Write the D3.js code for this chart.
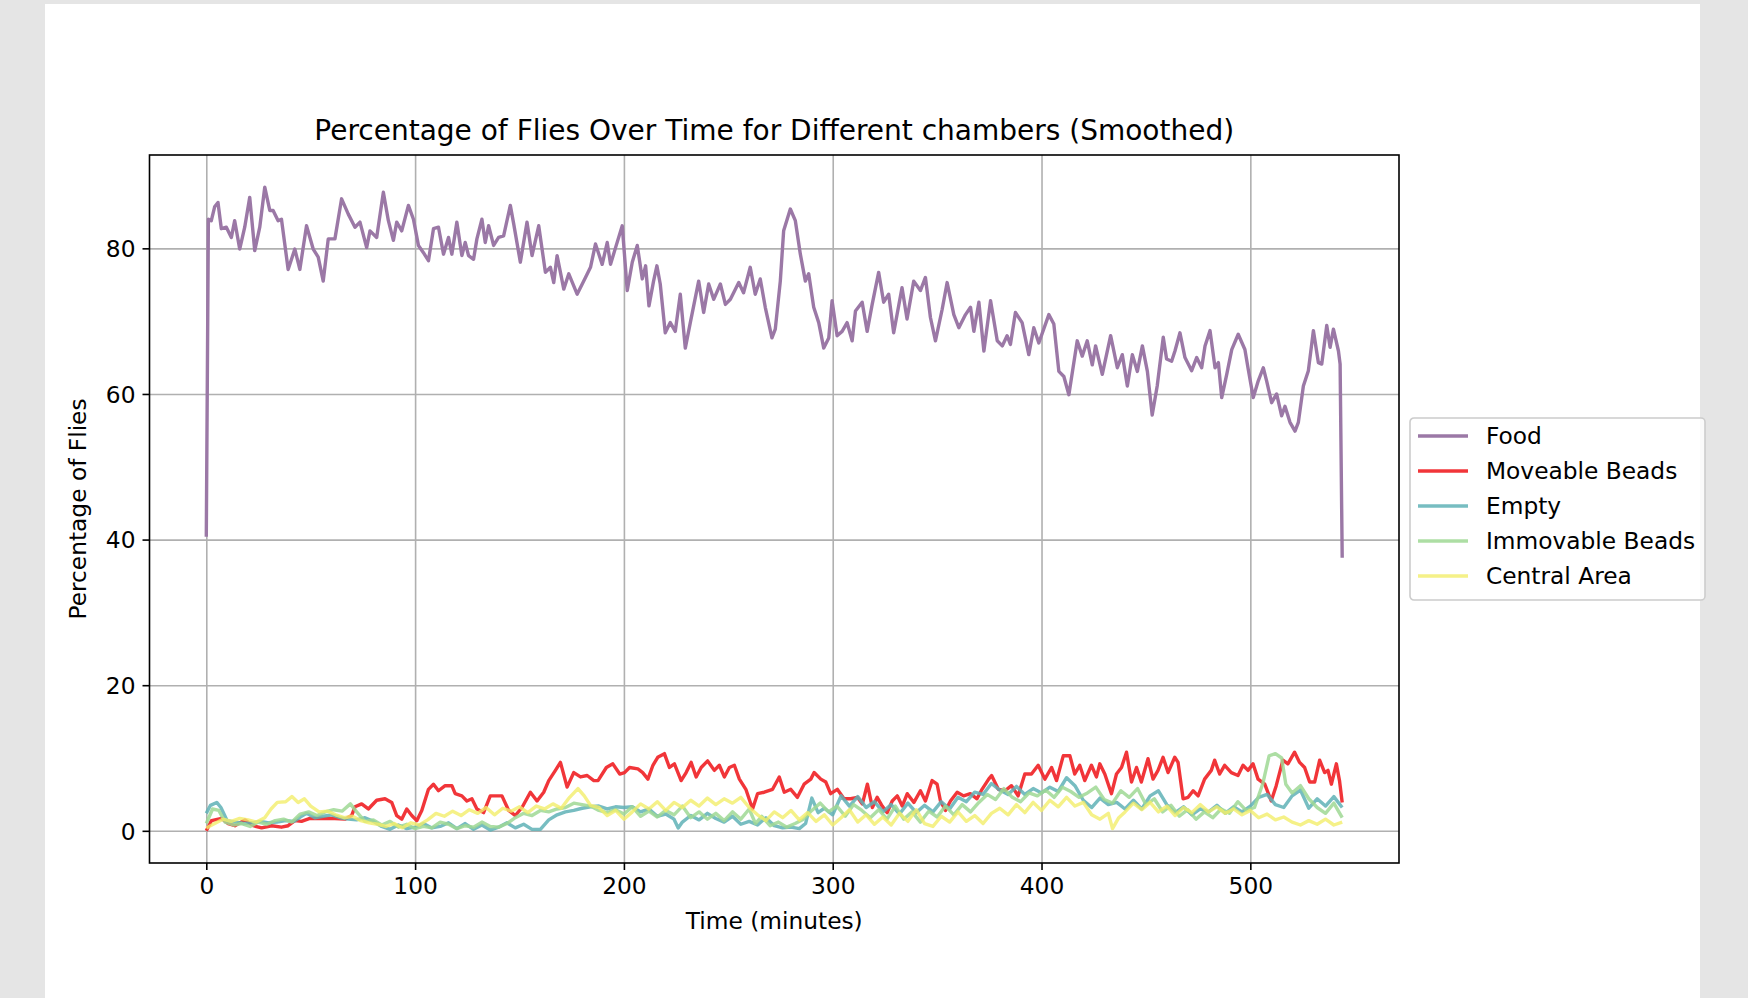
<!DOCTYPE html>
<html>
<head>
<meta charset="utf-8">
<script src="https://cdn.jsdelivr.net/npm/d3@7"></script>
<style>
  body { margin: 0; background: #e5e5e5; }
  svg { display: block; font-family: "DejaVu Sans", sans-serif; }
</style>
</head>
<body>
<svg id="chart" width="1748" height="998"></svg>
<script>
// ---- data (minutes vs % of flies) ----
const seriesNames = ["Food", "Moveable Beads", "Empty", "Immovable Beads", "Central Area"];
const yTicks = [0, 20, 40, 60, 80];
const xTicks = [0, 100, 200, 300, 400, 500];

const foodT = [0,1,2.4,4,5.6,7.2,9.6,12,13.6,16,18.4,20.8,23.2,25.6,28,30.4,32,34.4,36,39.2,42.4,44.8,48,51.2,53.6,56,58.4,61.6,64.8,68,71.2,73.6,76.8,78.4,81.6,84.8,87.2,89.6,91.2,93.6,96.8,99.2,101.6,104,106.4,108.8,111.2,113.6,116,117.6,120,122.4,124,125.6,128,129.6,132,133.6,135.2,137.6,140,142.4,145.6,147.2,150.4,153.6,156,159.2,162.4,164.8,166.4,168,171.2,173.6,177.6,181.6,184,186.4,189.6,192,193.6,196,199.2,201.6,204,206.4,208.8,210.4,212,214.2,215.8,217.4,219.8,222.2,224.6,227,229.4,231.8,235.8,238.2,240.6,243,246.2,248.6,251,255,257.3,260.5,262.9,265.3,267.7,270.9,272.5,274.9,276.5,279.7,282.1,284.5,286.9,288.5,290.9,293.3,295.7,298.1,299.7,302.1,304.5,306.9,309.3,310.9,314.1,316.5,318.9,322,324.4,326.8,329.2,333.2,335.6,338.8,342,344.4,346.8,349.2,352.4,354.8,358,360.4,363.6,366,367.6,370,372.4,375.6,378.8,381.2,383.5,385.1,387.5,390.7,393.9,396.3,398.7,403.5,405.9,408.3,410.7,413.1,417.1,419.5,421.9,424.3,425.9,429.1,433.1,436.3,438.7,441.1,443.5,445.9,448.3,450.7,453,455.4,458.3,459.9,462.3,463.9,466.3,468.7,471.9,474.3,476.7,478.3,480.7,483.1,484.7,486.3,488.7,491.1,494.2,497.4,499,501.4,503.8,506.2,507.8,510.2,512.6,515,516.6,519,521.4,523,525.4,527.8,530.2,532.6,534.2,536.6,538.2,539.8,542.2,543,544];
const foodV = [40.4,84.0,83.8,85.7,86.3,82.7,82.9,81.5,83.8,79.9,82.9,87.0,79.7,82.9,88.4,85.2,85.2,83.8,84.0,77.1,79.9,77.1,83.1,79.9,78.8,75.5,81.3,81.3,86.8,84.7,82.9,83.6,80.1,82.4,81.5,87.7,83.8,81.1,83.6,82.4,85.9,84.0,80.4,79.4,78.3,82.7,82.9,79.2,81.5,79.2,83.6,79.0,80.8,79.0,78.5,81.3,84.0,80.8,83.1,80.4,81.5,81.7,85.9,83.4,78.1,83.6,79.0,83.1,76.7,77.4,75.3,79.0,74.4,76.5,73.7,76.0,77.4,80.6,77.8,80.8,77.8,80.1,83.1,74.2,78.1,80.4,75.8,77.6,72.1,75.5,77.6,75.1,68.4,69.8,68.6,73.7,66.3,69.8,75.5,71.2,75.1,73.0,75.1,72.3,73.0,75.3,73.9,77.4,73.7,75.8,71.9,67.7,68.9,75.5,82.4,85.4,83.8,79.2,75.5,76.5,71.9,69.8,66.3,67.7,72.8,68.0,68.6,69.8,67.3,71.4,72.6,68.6,72.3,76.7,72.6,73.7,68.4,74.6,70.3,75.5,74.2,76.0,70.5,67.3,71.6,75.3,70.9,69.1,70.9,71.9,68.6,72.6,65.9,72.8,67.3,66.6,68.0,66.8,71.2,69.8,65.4,69.1,67.0,70.9,69.6,63.1,62.4,59.9,67.3,65.2,67.3,64.0,66.6,62.7,68.0,63.6,65.4,61.1,65.4,63.1,66.6,63.1,57.1,61.1,67.8,64.8,64.5,65.9,68.4,65.0,63.2,65.0,63.6,66.6,68.7,63.6,64.3,59.5,62.7,66.1,68.2,66.1,63.4,59.5,61.8,63.6,61.8,58.8,60.0,57.0,58.3,56.1,54.9,56.1,61.1,63.2,68.7,64.3,64.1,69.4,66.4,68.9,65.9,64.1,37.5];

const moveT = [0,2.5,7.3,10.5,13.7,18.5,22.5,26.5,31.3,36,39.2,42.4,45.6,49.6,55.2,61.6,66.4,69.6,71.2,74.4,77.6,81.6,85.6,88.8,91.2,93.6,96,98.4,100.8,103.2,106.4,108.8,111.2,114.4,117.6,119.2,122.4,124.8,127.2,129.6,132.8,136,139.2,141.6,144.8,148,151.2,155.2,158.4,161.6,164,167.2,169.6,172.8,176,179.2,182.4,185.6,187.6,191.6,194.7,198,200.3,202.7,206.7,209,211.5,213.9,216.2,219.4,221.8,224.2,227.4,229.8,232.2,234.6,237,240.1,243.3,245.7,248.1,250.5,252.9,255.3,258.4,261.6,264,267.2,271.2,274.4,276.8,279.9,283.1,286.3,289.5,291.1,294.3,296.7,299,302.2,305.4,308.6,311.8,314.2,316.6,319,321.3,323.7,326.1,328.5,330.9,333.3,335.7,338.9,342,344.4,347.6,350,351.6,354,356.4,359.6,362.7,365.9,369.1,371.5,374.7,376.1,379.3,382.5,385.6,388.8,392,395.2,398.4,401.6,404.8,407.2,410.4,413.6,415.9,418.3,420.7,423.9,426.3,427.9,430.3,433.5,435.9,438.3,440.7,443.1,445.5,447.8,451,453.4,455.8,458.2,460.6,463.8,465.4,467.8,470.2,472.6,475,478.1,481.3,482.9,485.3,487.7,490.9,494.1,496.5,498.9,501.3,503.7,506.9,510,512.4,515.6,518,521.2,523.6,526,528.4,530.8,533.2,535.6,537.2,538.8,541.2,542.7,544];
const moveV = [0,1.4,1.7,1.0,0.7,1.5,0.7,0.4,0.7,0.5,0.7,1.4,1.3,1.7,1.7,1.7,1.6,2.1,3.3,3.7,3.0,4.2,4.4,3.9,2.1,1.6,3.0,2.1,1.4,2.8,5.7,6.4,5.5,6.2,6.2,5.1,4.8,4.1,4.4,3.0,2.5,4.8,4.8,4.8,2.8,2.1,3.2,5.3,4.1,5.3,6.9,8.3,9.4,6.0,8.0,7.4,7.6,6.9,6.9,8.7,9.2,7.8,8.0,8.7,8.5,8.0,7.1,9.0,10.1,10.6,8.7,9.2,6.9,8.0,9.4,7.4,8.7,9.6,8.3,9.0,7.4,8.7,9.0,7.1,5.7,3.0,5.1,5.3,5.7,7.4,5.3,5.7,4.6,6.4,7.1,8.0,7.1,6.7,5.1,5.7,4.4,4.4,4.6,3.7,6.4,3.2,4.6,3.4,2.5,4.1,4.8,3.4,5.1,3.9,5.5,4.1,6.9,6.4,4.1,2.8,4.1,5.3,4.8,5.1,4.4,5.7,7.1,7.6,5.7,5.5,6.2,4.8,7.8,7.8,9.0,7.1,8.7,6.9,10.3,10.3,7.8,9.0,6.9,9.0,7.4,9.2,7.8,5.1,7.8,8.7,10.8,6.7,8.7,6.7,9.9,7.1,8.3,10.1,8.0,10.1,9.4,4.4,4.6,5.5,4.8,7.1,8.3,9.7,7.8,9.0,8.0,7.6,9.0,8.3,9.2,7.1,6.4,4.1,6.2,9.7,9.2,10.8,9.4,8.7,6.7,6.7,9.7,8.0,8.3,6.4,9.2,6.9,3.9];

const emptyT = [0,2,5,7,10,14,18,22,26,30,34,38,42,45,48,52,56,60,64,68,72,76,80,84,88,92,96,100,104,108,112,116,120,124,128,132,136,140,144,148,152,156,160,164,168,172,176,180,184,188,192,196,200,204,208,212,216,220,224,226,228,232,236,240,244,248,252,256,260,264,268,272,276,280,284,287,290,293,296,300,304,308,312,316,320,324,328,332,336,340,344,348,352,356,360,364,368,372,376,380,384,388,392,396,400,404,408,412,416,420,424,428,432,436,440,444,448,452,456,460,464,468,472,476,480,484,488,492,496,500,504,508,512,516,520,524,528,532,536,540,544];
const emptyV = [2.4,3.5,3.9,3.2,1.4,1.2,1.0,1.1,1.3,1.1,1.2,1.4,1.3,1.9,2.4,1.8,2.0,2.2,1.8,1.6,1.5,1.8,1.3,0.6,0.2,0.8,0.3,0.5,1.0,0.4,0.6,1.1,0.3,1.0,0.2,0.8,0.1,0.5,1.1,0.4,0.9,0.2,0.2,1.5,2.2,2.6,2.8,3.1,3.3,3.4,3.0,3.3,3.2,3.3,2.6,3.0,2.0,2.3,1.6,0.4,1.2,2.1,1.5,2.4,1.7,1.2,2.0,0.9,1.3,0.8,1.8,0.7,0.4,0.5,0.3,1.0,4.5,2.5,3.1,2.2,4.8,3.4,4.7,3.2,4.0,2.6,3.6,2.3,3.8,2.5,3.5,2.6,4.0,3.0,4.6,4.0,5.3,5.0,6.5,5.6,5.0,6.1,5.0,5.8,5.2,6.0,5.4,7.3,6.2,4.2,3.2,4.5,3.6,3.9,3.0,4.2,3.0,4.8,5.5,3.6,2.5,3.3,2.2,3.0,2.6,3.5,2.4,3.3,2.6,3.4,4.6,5.0,3.6,3.2,4.8,5.6,3.1,4.4,3.4,4.7,3.2];

const immovT = [0,3,6,9,13,17,21,25,29,33,37,41,45,49,53,57,61,65,69,72,76,80,84,88,92,96,100,104,108,112,116,120,124,128,132,136,140,144,148,152,156,160,164,168,172,176,180,184,188,192,196,200,204,208,212,216,220,224,228,232,236,240,244,248,252,256,260,263,266,270,274,278,282,286,290,294,298,302,306,310,314,318,322,326,330,334,338,342,346,350,354,358,362,366,370,374,378,382,386,390,394,398,402,406,410,414,418,422,426,430,434,438,442,446,450,454,458,462,466,470,474,478,482,486,490,494,498,502,506,509,512,515,517,520,524,528,532,536,540,544];
const immovV = [1.0,3.0,2.8,1.2,0.8,1.0,0.6,1.2,0.9,1.4,1.6,1.2,2.3,2.6,2.1,2.6,2.9,2.7,3.7,2.6,1.3,1.5,0.8,1.3,0.5,0.9,0.3,0.6,0.4,1.2,0.9,0.3,0.7,0.5,1.2,0.6,0.5,1.0,1.8,2.4,2.1,2.8,2.6,3.0,3.2,3.8,3.6,3.4,2.8,2.5,2.9,2.3,3.3,2.0,2.7,1.9,2.8,2.2,3.4,1.8,2.6,1.6,2.4,1.4,2.6,1.6,3.0,1.0,2.0,0.7,1.2,0.5,1.0,1.6,2.8,3.8,2.6,3.4,2.0,3.6,2.8,1.8,2.9,1.6,3.4,1.6,2.6,1.2,2.7,1.9,3.4,2.2,3.6,2.6,3.9,5.0,4.3,5.8,4.6,4.0,5.2,4.8,5.6,4.6,6.0,5.4,4.6,5.2,6.0,4.3,3.8,5.5,4.6,5.8,3.6,4.4,2.6,3.5,2.0,2.9,1.6,2.6,1.8,3.0,2.4,4.0,2.8,3.2,6.5,10.3,10.6,10.0,6.4,5.2,6.2,4.4,3.2,2.4,3.8,1.8];

const centralT = [0,4,8,12,16,20,24,28,31,34,38,41,44,47,50,54,58,62,66,70,74,78,82,86,90,94,98,102,106,110,114,118,122,126,130,134,138,142,146,150,154,158,162,166,170,174,178,181,184,188,192,196,200,204,208,212,216,220,224,228,232,236,240,244,248,252,256,260,264,268,272,276,280,284,288,292,296,300,304,308,312,316,320,324,328,332,336,340,344,348,352,356,360,364,368,372,376,380,384,388,392,396,400,404,408,412,416,420,424,428,432,434,437,440,444,448,452,456,460,464,468,472,476,480,484,488,492,496,500,504,508,512,516,520,524,528,532,536,540,544];
const centralV = [0.4,1.0,1.6,1.3,1.7,1.5,1.2,1.8,3.0,3.9,4.0,4.7,3.9,4.4,3.4,2.6,2.7,2.2,1.8,2.0,1.4,1.1,0.9,0.6,1.0,0.4,1.1,0.8,1.5,2.4,2.0,2.7,2.1,2.9,2.4,3.2,2.2,3.1,2.7,3.3,2.5,3.4,3.0,3.7,3.1,4.6,5.8,4.8,3.5,3.2,2.1,2.8,1.6,2.6,3.7,3.0,4.0,2.8,3.9,3.2,4.2,3.4,4.5,3.6,4.4,3.8,4.6,3.2,2.2,1.4,2.6,1.8,2.8,1.5,2.5,1.3,2.2,0.8,1.8,2.9,1.2,2.2,0.9,1.9,0.8,2.4,1.3,2.9,1.0,0.6,2.0,1.2,2.6,1.3,2.1,1.0,2.4,3.1,2.2,3.6,2.5,3.9,2.8,4.2,3.3,4.6,3.4,3.9,2.2,1.6,2.4,0.3,1.8,2.6,3.8,2.9,3.9,2.6,3.4,2.1,3.2,2.5,3.6,2.6,3.3,2.4,3.0,2.2,2.8,1.8,2.3,1.5,1.9,1.2,0.8,1.4,0.9,1.6,0.8,1.2];

const seriesColors = ["#9b78a6", "#f02a2e", "#5fb2b6", "#9fd894", "#f2ee6a"];
const seriesOpacity = [1, 0.95, 0.85, 0.85, 0.8];

function zipSeries(ts, vs) {
    return ts.map((t, i) => ({ t: t, v: vs[i] }));
}

const series = [
    zipSeries(foodT, foodV),
    zipSeries(moveT, moveV),
    zipSeries(emptyT, emptyV),
    zipSeries(immovT, immovV),
    zipSeries(centralT, centralV)
];

/**
 * Draws the chart into the given svg
 */
function createChart(svgElementQuery) {
    const svg = d3.select(svgElementQuery);
    const W = +svg.attr("width"), H = +svg.attr("height");

    // page background + white figure
    svg.append("rect").attr("width", W).attr("height", H).attr("fill", "#e5e5e5");
    svg.append("rect").attr("x", 45).attr("y", 4).attr("width", 1655).attr("height", H - 4).attr("fill", "#ffffff");

    const margin = { top: 155, left: 149.5, right: 349, bottom: 135 },
        width = W - margin.left - margin.right,
        height = H - margin.top - margin.bottom,
        g = svg.append("g").attr("transform", "translate(" + margin.left + "," + margin.top + ")");

    // matplotlib-style 5% padding around the data extent
    const allT = series.flat().map(d => d.t), allV = series.flat().map(d => d.v);
    const tMin = d3.min(allT), tMax = d3.max(allT), vMin = d3.min(allV), vMax = d3.max(allV);
    const tPad = (tMax - tMin) * 0.05, vPad = (vMax - vMin) * 0.05;

    const x = d3.scaleLinear().domain([tMin - tPad, tMax + tPad]).range([0, width]);
    const y = d3.scaleLinear().domain([vMin - vPad, vMax + vPad]).range([height, 0]);

    const fontSize = 23.3;
    const lw = 1.6;

    // grid
    const gridX = g.append("g").attr("class", "grid")
        .call(d3.axisBottom(x).tickValues(xTicks).tickSize(height).tickFormat(""));
    const gridY = g.append("g").attr("class", "grid")
        .call(d3.axisLeft(y).tickValues(yTicks).tickSize(-width).tickFormat(""));
    [gridX, gridY].forEach(gr => {
        gr.select(".domain").remove();
        gr.selectAll("line").attr("stroke", "#b0b0b0").attr("stroke-width", lw);
    });

    // lines
    const line = d3.line().x(d => x(d.t)).y(d => y(d.v));
    g.append("g").selectAll("path")
        .data(series)
        .enter().append("path")
        .attr("fill", "none")
        .attr("stroke", (d, i) => seriesColors[i])
        .attr("stroke-opacity", (d, i) => seriesOpacity[i])
        .attr("stroke-width", 3.4)
        .attr("stroke-linejoin", "round")
        .attr("stroke-linecap", "butt")
        .attr("d", line);

    // axes
    const xAxis = g.append("g")
        .attr("transform", "translate(0," + height + ")")
        .call(d3.axisBottom(x).tickValues(xTicks).tickSize(7).tickPadding(6).tickFormat(d3.format("d")));
    const yAxis = g.append("g")
        .call(d3.axisLeft(y).tickValues(yTicks).tickSize(7).tickPadding(7).tickFormat(d3.format("d")));
    [xAxis, yAxis].forEach(ax => {
        ax.select(".domain").remove();
        ax.selectAll("line").attr("stroke", "#000").attr("stroke-width", lw);
        ax.selectAll("text")
            .attr("font-family", "DejaVu Sans")
            .attr("font-size", fontSize)
            .attr("fill", "#000");
    });
    xAxis.selectAll("text").attr("dy", "0.76em");
    yAxis.selectAll("text").attr("dy", "0.36em");

    // frame
    g.append("rect")
        .attr("width", width).attr("height", height)
        .attr("fill", "none").attr("stroke", "#000").attr("stroke-width", lw);

    // title and labels
    svg.append("text")
        .attr("x", margin.left + width / 2).attr("y", 140)
        .attr("text-anchor", "middle")
        .attr("font-size", 28)
        .attr("fill", "#000")
        .text("Percentage of Flies Over Time for Different chambers (Smoothed)");

    svg.append("text")
        .attr("x", margin.left + width / 2).attr("y", 929)
        .attr("text-anchor", "middle")
        .attr("font-size", fontSize)
        .attr("fill", "#000")
        .text("Time (minutes)");

    svg.append("text")
        .attr("transform", "translate(86," + (margin.top + height / 2) + ") rotate(-90)")
        .attr("text-anchor", "middle")
        .attr("font-size", fontSize)
        .attr("fill", "#000")
        .text("Percentage of Flies");

    // legend
    const legend = svg.append("g").attr("transform", "translate(1410,418)");
    legend.append("rect")
        .attr("width", 295).attr("height", 182).attr("rx", 4)
        .attr("fill", "#fff").attr("fill-opacity", 0.8)
        .attr("stroke", "#cccccc").attr("stroke-width", lw);

    const items = legend.selectAll("g.item")
        .data(seriesNames)
        .enter().append("g")
        .attr("class", "item")
        .attr("transform", (name, i) => "translate(0," + (18 + i * 35) + ")");
    items.append("line")
        .attr("x1", 8).attr("x2", 58)
        .attr("stroke", (name, i) => seriesColors[i])
        .attr("stroke-opacity", (name, i) => seriesOpacity[i])
        .attr("stroke-width", 3.4);
    items.append("text")
        .attr("x", 76).attr("dy", "0.36em")
        .attr("font-size", fontSize)
        .attr("fill", "#000")
        .text(name => name);
}

createChart("#chart");
</script>
</body>
</html>
